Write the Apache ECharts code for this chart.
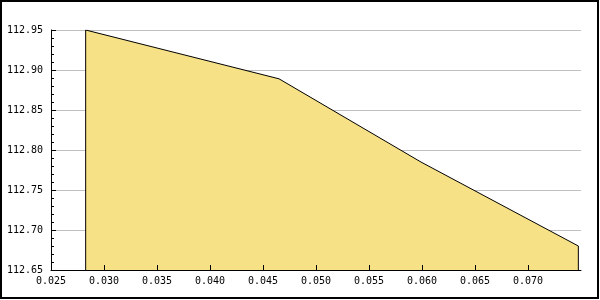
<!DOCTYPE html>
<html>
<head>
<meta charset="utf-8">
<script src="https://cdn.jsdelivr.net/npm/echarts@6/dist/echarts.min.js"></script>
<style>
html,body{margin:0;padding:0;background:#fff;}
#c{width:600px;height:300px;}
</style>
</head>
<body>
<div id="c"></div>
<script>
// Data
const xValues = [0.02827, 0.04651, 0.0599, 0.07475];
const yValues = [112.95, 112.889, 112.785, 112.680];
const xTicks = { min: 0.025, max: 0.075, interval: 0.005 };
const yTicks = { min: 112.65, max: 112.95, interval: 0.05 };

const pts = [[xValues[0], yTicks.min]];
for (let i = 0; i < xValues.length; i++) pts.push([xValues[i], yValues[i]]);
pts.push([xValues[xValues.length - 1], yTicks.min]);

const font = { fontFamily: 'DejaVu Sans Mono', fontSize: 10, color: '#000' };
const chart = echarts.init(document.getElementById('c'), null, { renderer: 'canvas' });
chart.setOption({
  animation: false,
  backgroundColor: '#fff',
  grid: { left: 51, right: 19, top: 30, bottom: 30, containLabel: false },
  xAxis: {
    type: 'value', min: xTicks.min, max: xTicks.max, interval: xTicks.interval, z: 5,
    axisLine: { show: true, onZero: false, lineStyle: { color: '#000', width: 1 } },
    axisTick: { show: true, inside: true, length: 5, lineStyle: { color: '#000' } },
    axisLabel: Object.assign({ margin: 6, showMaxLabel: false, formatter: v => v.toFixed(3) }, font),
    splitLine: { show: false }
  },
  yAxis: [{
    type: 'value', min: yTicks.min, max: yTicks.max, interval: yTicks.interval, z: 5,
    axisLine: { show: true, onZero: false, lineStyle: { color: '#000', width: 1 } },
    axisTick: { show: true, inside: true, length: 5, lineStyle: { color: '#000' } },
    minorTick: { show: true, splitNumber: 5, length: 3, lineStyle: { color: '#000' } },
    axisLabel: Object.assign({ margin: 8, formatter: v => v.toFixed(2) }, font),
    splitLine: { show: false }
  }, {
    type: 'value', min: yTicks.min, max: yTicks.max, interval: yTicks.interval, position: 'left', z: 0,
    axisLine: { show: false }, axisTick: { show: false }, axisLabel: { show: false },
    splitLine: { show: true, lineStyle: { color: '#c0c0c0', width: 1 } }
  }],
  series: [{
    type: 'line', data: pts, yAxisIndex: 0, showSymbol: false, symbol: 'none', z: 2,
    lineStyle: { color: '#000', width: 1 },
    areaStyle: { color: '#f6e187', opacity: 1, origin: 'start' }
  }],
  graphic: [{
    type: 'rect', shape: { x: 1, y: 1, width: 597, height: 297 }, z: 100,
    style: { fill: 'none', stroke: '#000', lineWidth: 2 }
  }]
});
</script>
</body>
</html>
